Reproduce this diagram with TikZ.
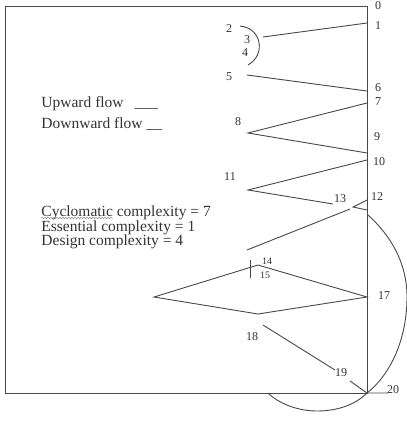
\documentclass[tikz,border=0pt]{standalone}
\usepackage{fontspec}
\setmainfont{Liberation Serif}
\usetikzlibrary{decorations.pathmorphing}
\definecolor{cline}{HTML}{484848}
\definecolor{ctext}{HTML}{333333}
\tikzset{
  every picture/.style={line width=0.9pt},
  edge/.style={draw=cline},
  num/.style={text=ctext, font=\fontsize{12}{12}\selectfont, inner sep=0pt},
  smallnum/.style={num, font=\fontsize{10}{10}\selectfont},
  legend/.style={text=ctext, font=\fontsize{15.5}{15}\selectfont, anchor=base west, inner sep=0pt},
}

\begin{document}
\begin{tikzpicture}[x=1pt, y=-1pt]
  \useasboundingbox (0,0) rectangle (407,421);
  % frame
  \coordinate (tl) at (5,6);
  \coordinate (tr) at (367,6);
  \coordinate (br) at (367,393);
  \coordinate (bl) at (5,393);
  \draw[edge] (tl) -- (tr) -- (br) -- (bl) -- cycle;
  % points of the flow
  \coordinate (p1) at (367,23);   \coordinate (q3) at (263,37);
  \coordinate (q5) at (247,75);   \coordinate (p6) at (367,91);
  \coordinate (p7) at (367,103);  \coordinate (q8) at (248,133);
  \coordinate (p9) at (367,153);  \coordinate (p10) at (367,160);
  \coordinate (q11) at (248,190); \coordinate (q13) at (333,204);
  \coordinate (p12a) at (367,200); \coordinate (q12) at (353,207);
  \coordinate (p12b) at (367,210); \coordinate (q12c) at (350,209);
  \coordinate (q14) at (247,250);
  \coordinate (dl) at (154,297);  \coordinate (dt) at (258,265);
  \coordinate (p17) at (367,297); \coordinate (db) at (258,314);
  \coordinate (ta) at (250,260);  \coordinate (tb) at (250,278);
  \coordinate (q18) at (263,325); \coordinate (q19) at (335,370);
  \coordinate (q19b) at (350,381); \coordinate (p20) at (367,393);
  \coordinate (e20) at (388,393);
  \coordinate (a2) at (240,26);   \coordinate (a4) at (248,65);
  \coordinate (lp0) at (368,215); \coordinate (lp1) at (407,297);
  \coordinate (lp2) at (317,411); \coordinate (lp3) at (268,393);
  % connectors
  \draw[edge] (q3) -- (p1);
  \draw[edge] (q5) -- (p6);
  \draw[edge] (p7) -- (q8) -- (p9);
  \draw[edge] (p10) -- (q11) -- (q13);
  \draw[edge] (p12a) -- (q12) -- (p12b);
  \draw[edge] (q12c) -- (q14);
  \draw[edge] (ta) -- (tb);
  \draw[edge] (dl) -- (dt) -- (p17) -- (db) -- cycle;
  \draw[edge] (q18) -- (q19);
  \draw[edge] (q19b) -- (p20) -- (e20);
  \draw[edge] (a2) .. controls (262,28) and (266,55) .. (a4);
  \draw[edge] (lp0) .. controls (390,235) and (407,262) .. (lp1)
    .. controls (407,340) and (390,375) .. (p20)
    .. controls (355,405) and (337,411) .. (lp2)
    .. controls (297,411) and (278,403) .. (lp3);
  % labels
  \node[num] (n0) at (378,6) {0};
  \node[num] (n1) at (378,26) {1};
  \node[num] (n2) at (229,29) {2};
  \node[num] (n3) at (247,40) {3};
  \node[num] (n4) at (245,53) {4};
  \node[num] (n5) at (229,77) {5};
  \node[num] (n6) at (378,88) {6};
  \node[num] (n7) at (378,102) {7};
  \node[num] (n8) at (238,122) {8};
  \node[num] (n9) at (377,137) {9};
  \node[num] (n10) at (379,162) {10};
  \node[num] (n11) at (230,177) {11};
  \node[num] (n12) at (377,197) {12};
  \node[num] (n13) at (340,199) {13};
  \node[smallnum] (n14) at (267,261) {14};
  \node[smallnum] (n15) at (265,275) {15};
  \node[num] (n17) at (384,296) {17};
  \node[num] (n18) at (252,337) {18};
  \node[num] (n19) at (341,373) {19};
  \node[num] (n20) at (393,390) {20};
  % legend and figures
  \node[legend] (up) at (41,107) {Upward flow\hspace{11pt}\_\_\_};
  \node[legend] (down) at (41,128) {Downward flow\hspace{4pt}\_\_};
  \node[legend] (cc) at (41,216) {Cyclomatic complexity = 7};
  \node[legend] (ec) at (41,231) {Essential complexity = 1};
  \node[legend] (dc) at (41,245) {Design complexity = 4};
  \draw[black!45, line width=0.5pt, decorate,
    decoration={snake, segment length=3pt, amplitude=0.7pt}]
    ([yshift=-2pt]cc.base west) -- ++(72,0);
\end{tikzpicture}
\end{document}
